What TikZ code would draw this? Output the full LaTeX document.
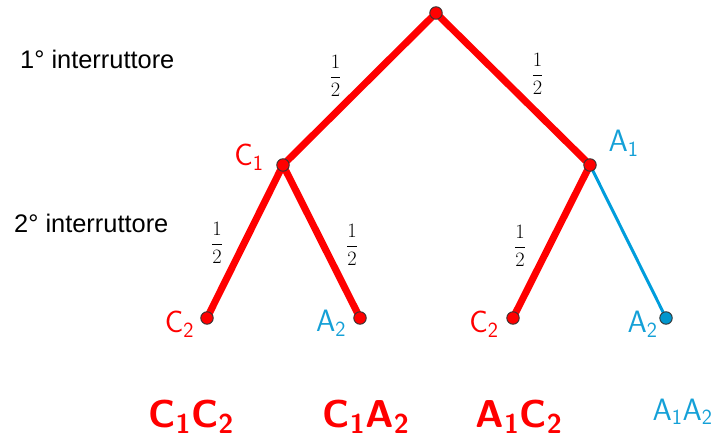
\documentclass[tikz,border=0pt]{standalone}
\usepackage{fix-cm}
\usepackage{amsmath}
\usepackage{fontspec}
\newfontfamily\labfont{Liberation Sans}
\definecolor{myred}{RGB}{255,0,0}
\definecolor{myblue}{RGB}{0,157,220}
\definecolor{mybluetxt}{RGB}{20,160,215}
\definecolor{dotblue}{RGB}{0,150,205}
\newcommand\half{$\displaystyle\frac{1}{2}$}
\newcommand\subsc[1]{$_{\text{#1}}$}
\begin{document}
\begin{tikzpicture}[x=1bp,y=-1bp,
  dot/.style={circle,draw=black!80,line width=0.9bp,minimum size=12.5bp,inner sep=0pt,fill=myred},
  bdot/.style={dot,fill=dotblue},
  redline/.style={myred,line width=7bp},
  blueline/.style={myblue,line width=3bp},
  frac/.style={font=\fontsize{20.5}{22}\selectfont,inner sep=0pt},
  lab/.style={font=\sffamily\fontsize{31}{33}\selectfont,anchor=base,inner sep=0pt},
  bold/.style={font=\sffamily\bfseries\fontsize{39}{40}\selectfont,text=myred,anchor=base,inner sep=0pt},
  side/.style={font=\labfont\fontsize{25.5}{28}\selectfont,anchor=base west,inner sep=0pt}]
\useasboundingbox (0,0) rectangle (715,438);
\coordinate (r) at (436,13);
\coordinate (c1) at (283,165);
\coordinate (a1) at (590,165);
\coordinate (l1) at (207,318);
\coordinate (l2) at (360,318);
\coordinate (l3) at (513,318);
\coordinate (l4) at (666,318);
\draw[redline] (r) -- (c1);
\draw[redline] (r) -- (a1);
\draw[redline] (c1) -- (l1);
\draw[redline] (c1) -- (l2);
\draw[redline] (a1) -- (l3);
\draw[blueline] (a1) -- (l4);
\node[dot] (nr) at (r) {};
\node[dot] (nc1) at (c1) {};
\node[dot] (na1) at (a1) {};
\node[dot] (nl1) at (l1) {};
\node[dot] (nl2) at (l2) {};
\node[dot] (nl3) at (l3) {};
\node[bdot] (nl4) at (l4) {};
\node[frac] (f1) at (335.5,76) {\half};
\node[frac] (f2) at (537.5,74) {\half};
\node[frac] (f3) at (217,243) {\half};
\node[frac] (f4) at (352,245) {\half};
\node[frac] (f5) at (520,246) {\half};
\node[lab,text=myred] (tc1) at (249,166) {C\subsc{1}};
\node[lab,text=mybluetxt] (ta1) at (623.5,152) {A\subsc{1}};
\node[lab,text=myred] (tl1) at (179.5,333) {C\subsc{2}};
\node[lab,text=mybluetxt] (tl2) at (331,332) {A\subsc{2}};
\node[lab,text=myred] (tl3) at (484,333) {C\subsc{2}};
\node[lab,text=mybluetxt] (tl4) at (642.5,333) {A\subsc{2}};
\node[bold] (b1) at (191,427) {C\subsc{1}C\subsc{2}};
\node[bold] (b2) at (366,427) {C\subsc{1}A\subsc{2}};
\node[bold] (b3) at (519,427) {A\subsc{1}C\subsc{2}};
\node[lab,text=mybluetxt] (b4) at (682.5,420) {A\subsc{1}A\subsc{2}};
\node[side] (s1) at (20,69) {1° interruttore};
\node[side] (s2) at (14,233) {2° interruttore};
\end{tikzpicture}
\end{document}
